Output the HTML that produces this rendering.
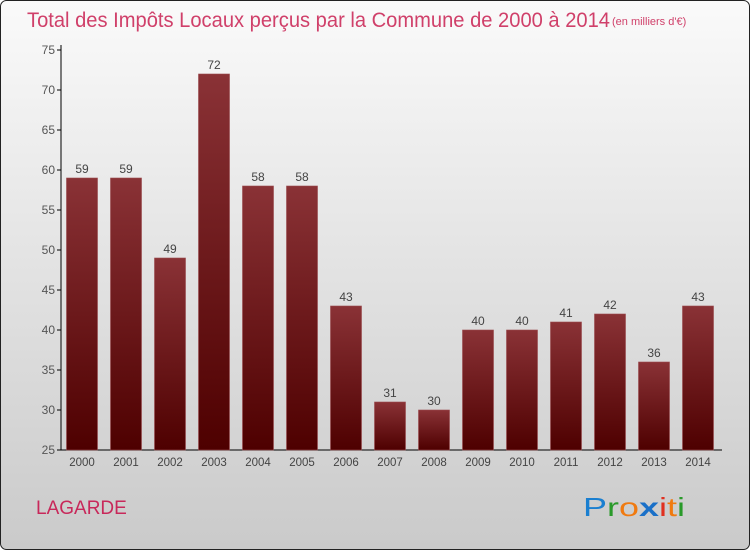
<!DOCTYPE html>
<html><head><meta charset="utf-8"><style>
html,body{margin:0;padding:0;}
body{width:750px;height:550px;overflow:hidden;font-family:"Liberation Sans",sans-serif;}
</style></head><body>
<svg id="chart" width="750" height="550" xmlns="http://www.w3.org/2000/svg">
<defs>
<linearGradient id="bg" x1="0" y1="0" x2="0" y2="1"><stop offset="0" stop-color="#fafafa"/><stop offset="1" stop-color="#cacaca"/></linearGradient>
<linearGradient id="bar" x1="0" y1="0" x2="0" y2="1"><stop offset="0" stop-color="#8a3236"/><stop offset="1" stop-color="#4e0000"/></linearGradient>
</defs>
<rect x="0.5" y="0.5" width="749" height="549" rx="6" fill="url(#bg)" stroke="#222"/>
<text x="27" y="27" font-size="21" fill="#d0406a" textLength="583" lengthAdjust="spacingAndGlyphs">Total des Impôts Locaux perçus par la Commune de 2000 à 2014</text>
<text x="612" y="25" font-size="11" fill="#d0406a">(en milliers d'€)</text>
<g id="axes"></g>
<g id="bars"></g>
<text x="36" y="514" font-size="19" fill="#c8285a">LAGARDE</text>
<text x="583" y="516" font-size="26" font-family="Liberation Sans, sans-serif" textLength="102" lengthAdjust="spacingAndGlyphs"><tspan fill="#1a7fd0">P</tspan><tspan fill="#2a9a2a">r</tspan><tspan fill="#f07a10">o</tspan><tspan fill="#1a70c8" font-weight="bold">x</tspan><tspan fill="#e03020">i</tspan><tspan fill="#f07a10">t</tspan><tspan fill="#2a9a2a">i</tspan></text>
</svg>
<script>
const years=["2000","2001","2002","2003","2004","2005","2006","2007","2008","2009","2010","2011","2012","2013","2014"];
const values=[59,59,49,72,58,58,43,31,30,40,40,41,42,36,43];
const yTicks=[25,30,35,40,45,50,55,60,65,70,75];
const NS="http://www.w3.org/2000/svg";
const y=v=>450-(v-25)*8;
const x=i=>82+i*44;
function mk(tag,attrs,parent,txt){const e=document.createElementNS(NS,tag);for(const k in attrs)e.setAttribute(k,attrs[k]);if(txt!==undefined)e.textContent=txt;parent.appendChild(e);return e;}
const ax=document.getElementById('axes'),bg=document.getElementById('bars');
let l=mk('line',{x1:61,y1:45,x2:61,y2:450,stroke:'#000'},ax);


l=mk('line',{x1:61,y1:450,x2:722,y2:450,stroke:'#000'},ax);


yTicks.forEach(t=>{
 const tk=mk('line',{x1:57,y1:y(t),x2:61,y2:y(t),stroke:'#000'},ax);
 
 
 const tx=mk('text',{x:55,y:y(t)+4,'font-size':12,fill:'#555','text-anchor':'end'},ax,t);
 
 
});
years.forEach((yr,i)=>{
 const v=values[i];
 const r=mk('rect',{x:x(i)-15.5,y:y(v),width:31,height:450-y(v),fill:'url(#bar)',stroke:'#9a4a4e','stroke-width':0.6},bg);
 
 
 const vl=mk('text',{x:x(i),y:y(v)-5,'font-size':12,fill:'#444','text-anchor':'middle'},bg,v);
 
 
 const xl=mk('text',{x:x(i),y:466,'font-size':11.5,fill:'#444','text-anchor':'middle'},bg,yr);
 
 
});
</script>
</body></html>
